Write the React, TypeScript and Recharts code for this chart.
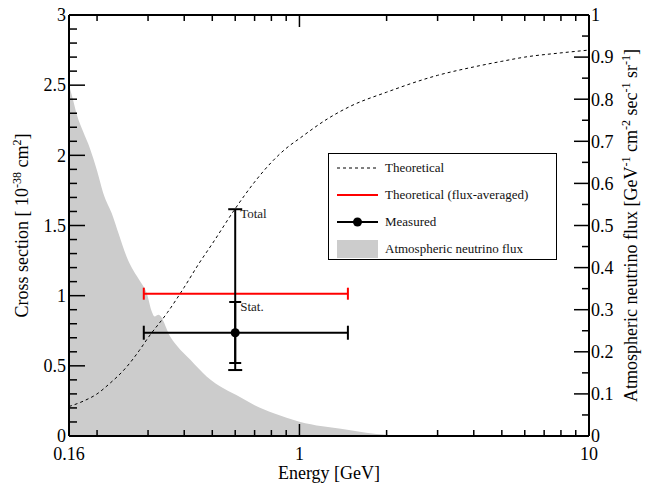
import { Area, ComposedChart, ErrorBar, Label, Line, ReferenceDot, Scatter, XAxis, YAxis } from 'recharts';

const FONT = '"Liberation Serif", "Times New Roman", Times, serif';

// theoretical cross section (left axis, 10^-38 cm^2)
const theoryEnergy = [0.16, 0.18, 0.2, 0.22, 0.25, 0.28, 0.3, 0.35, 0.4, 0.45, 0.5, 0.6, 0.7, 0.8, 0.9, 1.0, 1.25, 1.5, 2.0, 3.0, 4.0, 5.0, 6.0, 8.0, 10];
const theorySigma = [0.21, 0.25, 0.3, 0.37, 0.48, 0.61, 0.7, 0.88, 1.06, 1.23, 1.37, 1.62, 1.81, 1.95, 2.05, 2.12, 2.26, 2.35, 2.45, 2.57, 2.63, 2.67, 2.7, 2.73, 2.75];

// atmospheric neutrino flux (right axis)
const fluxEnergy = [0.16, 0.165, 0.17, 0.179, 0.189, 0.2, 0.21, 0.227, 0.237, 0.253, 0.267, 0.282, 0.297, 0.309, 0.316, 0.326, 0.358, 0.42, 0.479, 0.55, 0.625, 0.7, 0.815, 1.0, 1.2, 1.39, 1.7, 2.0, 2.3, 10];
const fluxValue = [0.833, 0.8, 0.765, 0.723, 0.683, 0.63, 0.577, 0.521, 0.482, 0.426, 0.393, 0.367, 0.339, 0.296, 0.284, 0.288, 0.236, 0.181, 0.141, 0.112, 0.092, 0.073, 0.054, 0.034, 0.023, 0.017, 0.008, 0.003, 0, 0];

// measurement
const measuredEnergy = [0.6];
const measuredSigma = [0.736];
const energyRange = [0.29, 1.47];
const statRange = [0.52, 0.955];
const totalRange = [0.47, 1.616];
const fluxAveragedSigma = [1.014];

const xTicks = [0.16, 0.2, 0.3, 0.4, 0.5, 0.6, 0.7, 0.8, 0.9, 1, 2, 3, 4, 5, 6, 7, 8, 9, 10];
const xLabels = [0.16, 1, 10];
const leftTicks = [0, 0.1, 0.2, 0.3, 0.4, 0.5, 0.6, 0.7, 0.8, 0.9, 1, 1.1, 1.2, 1.3, 1.4, 1.5, 1.6, 1.7, 1.8, 1.9, 2, 2.1, 2.2, 2.3, 2.4, 2.5, 2.6, 2.7, 2.8, 2.9, 3];
const leftLabels = [0, 0.5, 1, 1.5, 2, 2.5, 3];
const rightTicks = [0, 0.05, 0.1, 0.15, 0.2, 0.25, 0.3, 0.35, 0.4, 0.45, 0.5, 0.55, 0.6, 0.65, 0.7, 0.75, 0.8, 0.85, 0.9, 0.95, 1];
const rightLabels = [0, 0.1, 0.2, 0.3, 0.4, 0.5, 0.6, 0.7, 0.8, 0.9, 1];

const theoryData = theoryEnergy.map((e, i) => ({ e, sigma: theorySigma[i] }));
const fluxData = fluxEnergy.map((e, i) => ({ e, flux: fluxValue[i] }));
const measuredData = measuredEnergy.map((e, i) => ({
  e,
  sigma: measuredSigma[i],
  ex: [e - energyRange[0], energyRange[1] - e],
  stat: [measuredSigma[i] - statRange[0], statRange[1] - measuredSigma[i]],
  total: [measuredSigma[i] - totalRange[0], totalRange[1] - measuredSigma[i]],
}));
const averagedData = measuredEnergy.map((e, i) => ({
  e,
  sigma: fluxAveragedSigma[i],
  ex: [e - energyRange[0], energyRange[1] - e],
}));

function BottomTick({ x, y, payload }: any) {
  const v = payload.value;
  const len = v === 1 ? 12 : 6;
  return (
    <g>
      <line x1={x} x2={x} y1={y} y2={y - len} stroke="#000" strokeWidth={1.5} />
      {xLabels.includes(v) && (
        <text x={x} y={y + 24} textAnchor="middle" fontSize={18} fontFamily={FONT} fill="#000">
          {v}
        </text>
      )}
    </g>
  );
}

function TopTick({ x, y, payload }: any) {
  const len = payload.value === 1 ? 12 : 6;
  return <line x1={x} x2={x} y1={y} y2={y + len} stroke="#000" strokeWidth={1.5} />;
}

function LeftTick({ x, y, payload }: any) {
  const v = payload.value;
  const major = leftLabels.includes(v);
  return (
    <g>
      <line x1={x} x2={x + (major ? 16 : 8)} y1={y} y2={y} stroke="#000" strokeWidth={1.5} />
      {major && (
        <text x={x - 3} y={y} dy="0.35em" textAnchor="end" fontSize={18} fontFamily={FONT} fill="#000">
          {v}
        </text>
      )}
    </g>
  );
}

function RightTick({ x, y, payload }: any) {
  const v = payload.value;
  const major = rightLabels.includes(v);
  return (
    <g>
      <line x1={x} x2={x - (major ? 15 : 7)} y1={y} y2={y} stroke="#000" strokeWidth={1.5} />
      {major && (
        <text x={x + 2} y={y} dy="0.35em" textAnchor="start" fontSize={18} fontFamily={FONT} fill="#000">
          {v}
        </text>
      )}
    </g>
  );
}

function PointLabel({ text, dx, dy }: { text: string; dx: number; dy: number }) {
  return (props: any) => {
    const { x, y } = props.viewBox;
    return (
      <text x={x + dx} y={y + dy} dy="0.35em" fontSize={13} fontFamily={FONT} fill="#222">
        {text}
      </text>
    );
  };
}

function LegendBox() {
  const rows = [
    {
      label: 'Theoretical',
      icon: <line x1={0} x2={41} y1={9} y2={9} stroke="#000" strokeWidth={1} strokeDasharray="3 3" />,
    },
    {
      label: 'Theoretical (flux-averaged)',
      icon: <line x1={0} x2={41} y1={9} y2={9} stroke="#ff0000" strokeWidth={2} />,
    },
    {
      label: 'Measured',
      icon: (
        <g>
          <line x1={0} x2={41} y1={9} y2={9} stroke="#000" strokeWidth={2} />
          <circle cx={20.5} cy={9} r={4.5} fill="#000" />
        </g>
      ),
    },
    {
      label: 'Atmospheric neutrino flux',
      icon: <rect x={0} y={0} width={41} height={18} fill="#cccccc" />,
    },
  ];
  return (
    <div
      style={{
        position: 'absolute',
        left: 328,
        top: 153,
        width: 229,
        height: 107,
        boxSizing: 'border-box',
        border: '1.5px solid #000',
        background: '#fff',
        fontFamily: FONT,
        fontSize: 13,
        color: '#111',
      }}
    >
      {rows.map((row) => (
        <div key={row.label} style={{ height: 27, display: 'flex', alignItems: 'center' }}>
          <svg width={41} height={18} style={{ marginLeft: 8, marginRight: 7 }}>
            {row.icon}
          </svg>
          <span>{row.label}</span>
        </div>
      ))}
    </div>
  );
}

export default function App() {
  return (
    <div style={{ position: 'absolute', left: 0, top: 0, width: 652, height: 483, background: '#fff' }}>
      <ComposedChart width={652} height={483} margin={{ top: 0, right: 0, bottom: 0, left: 0 }}>
        <XAxis
          dataKey="e"
          type="number"
          scale="log"
          domain={[0.16, 10]}
          allowDataOverflow
          ticks={xTicks}
          interval={0}
          height={47}
          tickSize={0}
          tickMargin={0}
          tickLine={false}
          axisLine={{ stroke: '#000', strokeWidth: 2 }}
          tick={<BottomTick />}
        >
          <Label
            content={(props: any) => {
              const { x, y, width } = props.viewBox;
              return (
                <text x={x + width / 2} y={y + 43} textAnchor="middle" fontSize={18} fontFamily={FONT} fill="#000">
                  Energy [GeV]
                </text>
              );
            }}
          />
        </XAxis>
        <XAxis
          xAxisId="top"
          dataKey="e"
          orientation="top"
          type="number"
          scale="log"
          domain={[0.16, 10]}
          allowDataOverflow
          ticks={xTicks}
          interval={0}
          height={15}
          tickSize={0}
          tickMargin={0}
          tickLine={false}
          axisLine={{ stroke: '#000', strokeWidth: 2 }}
          tick={<TopTick />}
        />
        <YAxis
          yAxisId="left"
          type="number"
          domain={[0, 3]}
          allowDataOverflow
          ticks={leftTicks}
          interval={0}
          width={69}
          tickSize={0}
          tickMargin={0}
          tickLine={false}
          axisLine={{ stroke: '#000', strokeWidth: 2 }}
          tick={<LeftTick />}
        >
          <Label
            content={(props: any) => {
              const { y, height } = props.viewBox;
              const cy = y + height / 2;
              return (
                <text x={22} y={cy} transform={`rotate(-90 22 ${cy})`} textAnchor="middle" dy="0.35em" fontSize={18} fontFamily={FONT} fill="#000">
                  Cross section [ 10
                  <tspan dy={-7} fontSize={12}>-38</tspan>
                  <tspan dy={7}> cm</tspan>
                  <tspan dy={-7} fontSize={12}>2</tspan>
                  <tspan dy={7}>]</tspan>
                </text>
              );
            }}
          />
        </YAxis>
        <YAxis
          yAxisId="right"
          orientation="right"
          type="number"
          domain={[0, 1]}
          allowDataOverflow
          ticks={rightTicks}
          interval={0}
          width={63}
          tickSize={0}
          tickMargin={0}
          tickLine={false}
          axisLine={{ stroke: '#000', strokeWidth: 2 }}
          tick={<RightTick />}
        >
          <Label
            content={(props: any) => {
              const { y, height } = props.viewBox;
              const cy = y + height / 2;
              return (
                <text x={631} y={cy} transform={`rotate(-90 631 ${cy})`} textAnchor="middle" dy="0.35em" fontSize={18} fontFamily={FONT} fill="#000">
                  Atmospheric neutrino flux [GeV
                  <tspan dy={-7} fontSize={12}>-1</tspan>
                  <tspan dy={7}> cm</tspan>
                  <tspan dy={-7} fontSize={12}>-2</tspan>
                  <tspan dy={7}> sec</tspan>
                  <tspan dy={-7} fontSize={12}>-1</tspan>
                  <tspan dy={7}> sr</tspan>
                  <tspan dy={-7} fontSize={12}>-1</tspan>
                  <tspan dy={7}>]</tspan>
                </text>
              );
            }}
          />
        </YAxis>

        <Area
          yAxisId="right"
          data={fluxData}
          dataKey="flux"
          type="monotone"
          stroke="none"
          fill="#cccccc"
          fillOpacity={1}
          isAnimationActive={false}
        />
        <Line
          yAxisId="left"
          data={theoryData}
          dataKey="sigma"
          type="monotone"
          stroke="#000"
          strokeWidth={1}
          strokeDasharray="3 3"
          dot={false}
          isAnimationActive={false}
        />
        <Scatter yAxisId="left" data={averagedData} dataKey="sigma" shape={() => <g />} isAnimationActive={false}>
          <ErrorBar dataKey="ex" direction="x" width={6} stroke="#ff0000" strokeWidth={2} />
        </Scatter>
        <Scatter
          yAxisId="left"
          data={measuredData}
          dataKey="sigma"
          shape={(p: any) => <circle cx={p.cx} cy={p.cy} r={4.5} fill="#000" />}
          isAnimationActive={false}
        >
          <ErrorBar dataKey="ex" direction="x" width={7} stroke="#000" strokeWidth={2} />
          <ErrorBar dataKey="total" direction="y" width={7} stroke="#000" strokeWidth={2} />
          <ErrorBar dataKey="stat" direction="y" width={6} stroke="#000" strokeWidth={2} />
        </Scatter>
        <ReferenceDot
          yAxisId="left"
          x={measuredEnergy[0]}
          y={totalRange[1]}
          r={1}
          fill="none"
          stroke="none"
          label={PointLabel({ text: 'Total', dx: 6, dy: 5 })}
        />
        <ReferenceDot
          yAxisId="left"
          x={measuredEnergy[0]}
          y={statRange[1]}
          r={1}
          fill="none"
          stroke="none"
          label={PointLabel({ text: 'Stat.', dx: 6, dy: 5 })}
        />
      </ComposedChart>
      <LegendBox />
    </div>
  );
}
